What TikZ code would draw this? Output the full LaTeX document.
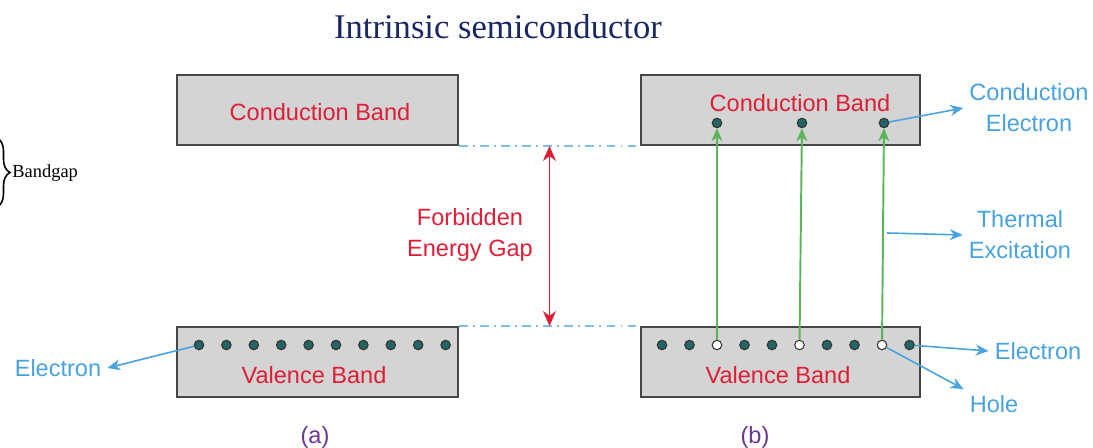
\documentclass[tikz,border=0pt]{standalone}
\usepackage{fontspec}
\setmainfont{Liberation Serif}
\setsansfont{Liberation Sans}
\usepackage{tikz}
\usetikzlibrary{arrows.meta,positioning,calc,decorations.pathreplacing}
\usepackage{xcolor}
\definecolor{bandGray}{RGB}{212,212,212}
\definecolor{edgeGray}{RGB}{70,70,70}
\definecolor{bandRed}{RGB}{222,30,55}
\definecolor{noteBlue}{RGB}{72,162,222}
\definecolor{exciteGreen}{RGB}{90,180,90}
\definecolor{dotTeal}{RGB}{35,100,100}
\definecolor{titleNavy}{RGB}{25,40,100}
\definecolor{tagPurple}{RGB}{105,55,145}
\tikzset{
  band/.style={draw=edgeGray, fill=bandGray, line width=1.1pt, inner sep=0pt},
  bandtext/.style={text=bandRed, font=\sffamily\fontsize{13.4pt}{17.6pt}\selectfont, align=center},
  note/.style={text=noteBlue, font=\sffamily\fontsize{13.4pt}{17.6pt}\selectfont, align=center},
  tag/.style={text=tagPurple, font=\sffamily\fontsize{13.4pt}{16pt}\selectfont},
  elec/.style={circle, draw=black!80, fill=dotTeal, line width=.6pt, minimum size=.19cm, inner sep=0pt},
  hole/.style={circle, draw=black!80, fill=white, line width=.6pt, minimum size=.19cm, inner sep=0pt},
  excite/.style={-{Stealth[length=2.6mm,width=2.2mm]}, draw=exciteGreen, line width=1.1pt},
  pointer/.style={-{Stealth[length=2.6mm,width=2.2mm]}, draw=noteBlue, line width=.9pt},
  gapline/.style={draw=noteBlue!70, line width=.8pt, dash pattern=on 5pt off 3pt on 1pt off 3pt},
  gaparrow/.style={{Stealth[length=3mm,width=2.6mm]}-{Stealth[length=3mm,width=2.6mm]}, draw=bandRed, line width=1.1pt}
}
\begin{document}
\begin{tikzpicture}[x=0.02cm, y=-0.02cm]
  \useasboundingbox (0,0) rectangle (1093,448);
  % title and side brace
  \node[text=titleNavy, font=\fontsize{19.7pt}{22pt}\selectfont] (title) at (498,27) {Intrinsic semiconductor};
  \draw[line width=.9pt, decorate, decoration={brace, amplitude=0.26cm}] (-3,138) -- (-3,207);
  \node[anchor=west, font=\fontsize{10.5pt}{12pt}\selectfont, inner sep=0pt] (bandgap) at (12,173) {Bandgap};
  % (a) bands
  \node[band, minimum width=5.62cm, minimum height=1.4cm] (cbA) at (317.5,110) {};
  \node[band, minimum width=5.62cm, minimum height=1.4cm] (vbA) at (317.5,362) {};
  \node[bandtext] (cbAtext) at (320,112) {Conduction Band};
  \node[bandtext] (vbAtext) at (314,375) {Valence Band};
  \foreach \i in {0,...,9}
    \node[elec] (ea\i) at (199+27.4*\i,345) {};
  % (b) bands
  \node[band, minimum width=5.58cm, minimum height=1.4cm] (cbB) at (780.5,110) {};
  \node[band, minimum width=5.58cm, minimum height=1.4cm] (vbB) at (780.5,362) {};
  \node[bandtext] (cbBtext) at (800,103) {Conduction Band};
  \node[bandtext] (vbBtext) at (778,375) {Valence Band};
  \foreach \i in {0,...,9}{
    \ifnum\i=2 \node[hole] (eb\i) at (662+27.5*\i,345) {};
    \else\ifnum\i=5 \node[hole] (eb\i) at (662+27.5*\i,345) {};
    \else\ifnum\i=8 \node[hole] (eb\i) at (662+27.5*\i,345) {};
    \else \node[elec] (eb\i) at (662+27.5*\i,345) {};
    \fi\fi\fi
  }
  \foreach \i/\x in {2/717,5/802,8/884}{
    \node[elec] (ce\i) at (\x,123) {};
    \draw[excite] (eb\i) -- (ce\i);
  }
  % gap
  \draw[gapline] (cbA.south east) -- (cbB.south west);
  \draw[gapline] (vbA.north east) -- (vbB.north west);
  \coordinate (gtop) at ($(cbA.south east)!.5!(cbB.south west)$);
  \coordinate (gbot) at ($(vbA.north east)!.5!(vbB.north west)$);
  \draw[gaparrow] (gtop) -- (gbot);
  \node[bandtext] (forbid) at (470,235) {Forbidden\\Energy Gap};
  % labels
  \node[note] (elecL) at (58,368) {Electron};
  \node[note] (condL) at (1029,108) {Conduction\\Electron};
  \node[note] (thermL) at (1020,235) {Thermal\\Excitation};
  \node[note] (elecR) at (1038,351) {Electron};
  \node[note] (holeL) at (994,404) {Hole};
  \coordinate (tx) at (887,233);
  \draw[pointer] (ea0) -- (elecL.east);
  \draw[pointer] (ce8) -- (condL.west);
  \draw[pointer] (tx) -- (thermL.west);
  \draw[pointer] (eb9) -- (elecR.west);
  \draw[pointer] (eb8) -- (holeL.north west);
  \node[tag] (tagA) at (315,437) {(a)};
  \node[tag] (tagB) at (755,437) {(b)};
\end{tikzpicture}
\end{document}
